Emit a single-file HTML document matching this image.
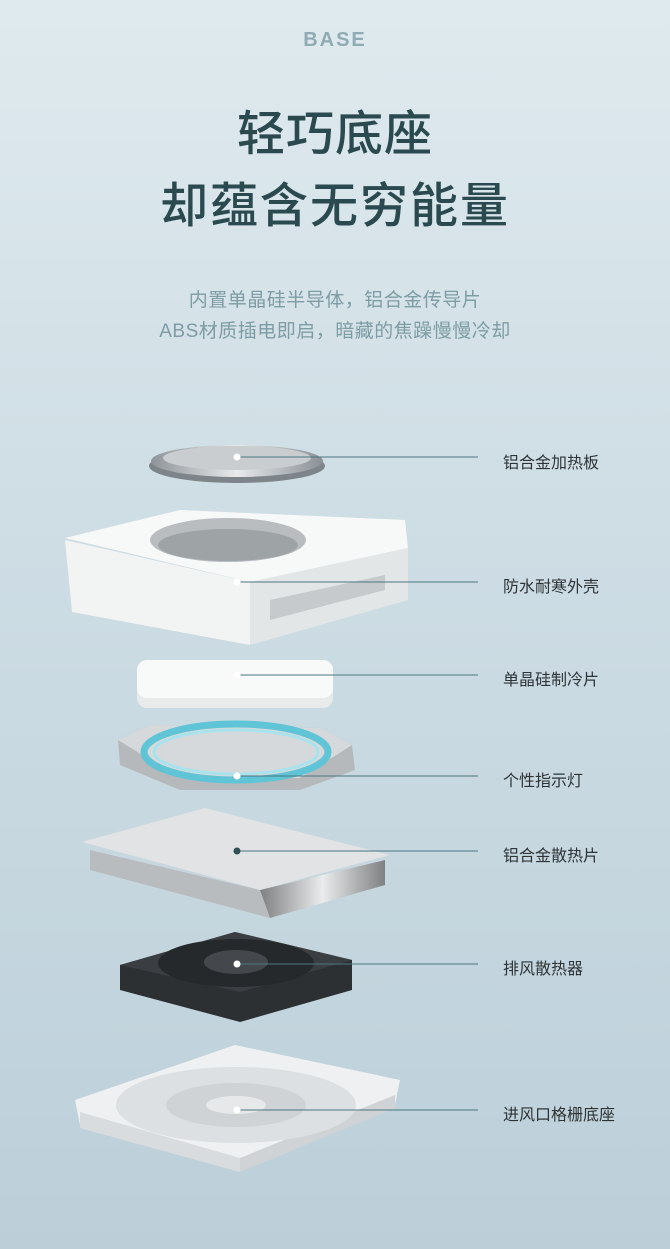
<!DOCTYPE html>
<html><head><meta charset="utf-8"><style>
body{margin:0;width:670px;height:1249px;overflow:hidden;background:linear-gradient(180deg,#dfeaee 0%,#cfdee5 40%,#bccfd9 100%);font-family:"Liberation Sans","Noto Sans CJK SC",sans-serif;position:relative}
.t{position:absolute;left:0;width:670px;text-align:center}
.lab{position:absolute;left:503px;font-size:16px;color:#2e3436}
</style></head><body>
<div class="t" style="top:29px;font-size:20px;font-weight:bold;letter-spacing:2px;color:#8fabb3">BASE</div>
<div class="t" style="top:105px;font-size:48px;font-weight:500;color:#2a4a50;letter-spacing:1px;line-height:60px">轻巧底座</div>
<div class="t" style="top:177px;font-size:48px;font-weight:500;color:#2a4a50;letter-spacing:2px;line-height:60px">却蕴含无穷能量</div>
<div class="t" style="top:285px;font-size:19px;color:#7d9ca4;line-height:31px;letter-spacing:0.5px">内置单晶硅半导体，铝合金传导片<br>ABS材质插电即启，暗藏的焦躁慢慢冷却</div>
<svg width="670" height="1249" style="position:absolute;left:0;top:0">
<defs>
<linearGradient id="met" x1="0" x2="1"><stop offset="0" stop-color="#8e9498"/><stop offset=".5" stop-color="#e8eaec"/><stop offset="1" stop-color="#8a9095"/></linearGradient>
<linearGradient id="fins" x1="0" x2="1"><stop offset="0" stop-color="#777"/><stop offset=".5" stop-color="#eee"/><stop offset="1" stop-color="#777"/></linearGradient>
</defs>
<ellipse cx="237" cy="466" rx="88" ry="17" fill="#7e858a"/>
<ellipse cx="237" cy="461" rx="86" ry="16" fill="url(#met)"/>
<ellipse cx="237" cy="458" rx="74" ry="12" fill="#c9cdd0"/>
<polygon points="65,540 250,582 250,645 72,612" fill="#f2f3f3"/>
<polygon points="250,582 408,548 408,600 250,645" fill="#e3e6e7"/>
<polygon points="65,538 180,510 405,520 408,548 250,582" fill="#f7f8f8"/>
<ellipse cx="228" cy="540" rx="78" ry="22" fill="#b9bdc0"/>
<ellipse cx="228" cy="545" rx="70" ry="16" fill="#9ea3a6"/>
<polygon points="270,600 385,575 385,590 270,620" fill="#c6cacc"/>
<rect x="137" y="660" width="196" height="48" rx="10" fill="#e9ebeb"/>
<rect x="137" y="660" width="196" height="38" rx="10" fill="#f8f9f9"/>
<polygon points="118,740 150,725 320,728 352,745 355,770 300,790 180,790 120,765" fill="#b5b9bc"/>
<polygon points="118,740 150,725 320,728 352,745 300,778 180,778" fill="#d6d9db"/>
<ellipse cx="236" cy="752" rx="92" ry="28" fill="none" stroke="#5fc4d6" stroke-width="7"/>
<ellipse cx="236" cy="752" rx="82" ry="22" fill="none" stroke="#a8e2ec" stroke-width="3"/>
<polygon points="90,850 260,890 270,918 90,870" fill="#b9bcbe"/>
<polygon points="260,890 385,860 385,885 270,918" fill="url(#fins)" opacity=".9"/>
<polygon points="82,842 205,808 390,855 260,890" fill="#e1e3e4"/>
<polygon points="120,965 235,932 352,960 352,990 240,1022 120,990" fill="#2d3033"/>
<polygon points="120,965 235,932 352,960 240,992" fill="#3a3e42"/>
<ellipse cx="236" cy="963" rx="78" ry="24" fill="#26292c"/>
<ellipse cx="236" cy="962" rx="32" ry="12" fill="#44484c"/>
<polygon points="75,1100 235,1045 400,1080 395,1105 240,1170 80,1125" fill="#eef0f1"/>
<polygon points="80,1112 240,1158 240,1172 80,1128" fill="#d9dcde"/>
<polygon points="240,1158 395,1095 395,1108 240,1172" fill="#cfd3d5"/>
<ellipse cx="236" cy="1105" rx="120" ry="38" fill="#dde0e2"/>
<ellipse cx="236" cy="1105" rx="70" ry="22" fill="#cfd3d5"/>
<ellipse cx="236" cy="1105" rx="30" ry="9" fill="#e6e8e9"/>
<g stroke="#4d7680" stroke-width="1">
<line x1="237" y1="457" x2="478" y2="457"/>
<line x1="237" y1="582" x2="478" y2="582"/>
<line x1="237" y1="675" x2="478" y2="675"/>
<line x1="237" y1="776" x2="478" y2="776"/>
<line x1="237" y1="851" x2="478" y2="851"/>
<line x1="237" y1="964" x2="478" y2="964"/>
<line x1="237" y1="1110" x2="478" y2="1110"/>
</g>
<g fill="#fff"><circle cx="237" cy="457" r="3.5"/><circle cx="237" cy="582" r="3.5"/><circle cx="237" cy="675" r="3.5"/><circle cx="237" cy="776" r="3.5"/><circle cx="237" cy="964" r="3.5"/><circle cx="237" cy="1110" r="3.5"/></g>
<circle cx="237" cy="851" r="3.5" fill="#2e5057"/>
</svg>
<div class="lab" style="top:449px">铝合金加热板</div>
<div class="lab" style="top:573px">防水耐寒外壳</div>
<div class="lab" style="top:666px">单晶硅制冷片</div>
<div class="lab" style="top:767px">个性指示灯</div>
<div class="lab" style="top:842px">铝合金散热片</div>
<div class="lab" style="top:955px">排风散热器</div>
<div class="lab" style="top:1101px">进风口格栅底座</div>
</body></html>
